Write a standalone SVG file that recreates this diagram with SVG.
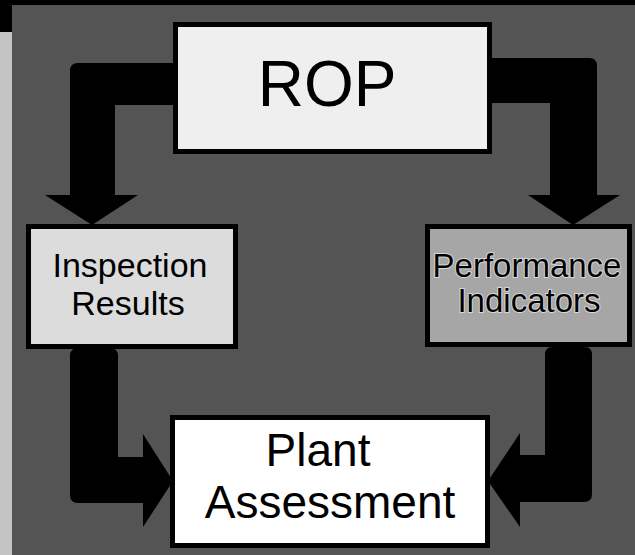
<svg xmlns="http://www.w3.org/2000/svg" width="635" height="555" viewBox="0 0 635 555">
  <style>
    .box { stroke: #000; stroke-width: 5; }
    .lbl { font-family: "Liberation Sans", Arial, sans-serif; fill: #000; text-anchor: middle; }
    .arrow { fill: #000; }
  </style>
  <rect x="0" y="0" width="635" height="555" fill="#545454"/>
  <rect x="0" y="0" width="12" height="555" fill="#c4c4c4"/>
  <rect x="0" y="0" width="12" height="32" fill="#000"/>
  <rect x="0" y="0" width="635" height="5" fill="#000"/>

  <g id="connectors">
    <path class="arrow" d="M175,63 L78,63 Q70,63 70,71 L70,195 L45,195 L92,225 L138,195 L115,195 L115,105 L175,105 Z"/>
    <path class="arrow" d="M492,58 L589,58 Q597,58 597,66 L597,195 L620,195 L573,225 L528,195 L550,195 L550,103 L492,103 Z"/>
    <path class="arrow" d="M70,356 Q70,348 78,348 L110,348 Q118,348 118,356 L118,457 L143,457 L143,434 L173,481 L143,527 L143,503 L78,503 Q70,503 70,495 Z"/>
    <path class="arrow" d="M592,355 Q592,347 585,347 L552,347 Q545,347 545,355 L545,455 L520,455 L520,433 L488,481 L520,527 L520,502 L584,502 Q592,502 592,494 Z"/>
  </g>

  <g id="rop">
    <rect class="box" x="175.5" y="24.5" width="314" height="127" fill="#efefef"/>
    <text class="lbl" x="327" y="106" font-size="64">ROP</text>
  </g>

  <g id="inspection-results">
    <rect class="box" x="28.5" y="226.5" width="207" height="120" fill="#dcdcdc"/>
    <text class="lbl" x="130" y="277" font-size="34">Inspection</text>
    <text class="lbl" x="128" y="315" font-size="34">Results</text>
  </g>

  <g id="performance-indicators">
    <rect class="box" x="427.5" y="226.5" width="202" height="118" fill="#a6a6a6"/>
    <text class="lbl" x="527" y="277" font-size="33" stroke="#d8d8d8" stroke-width="2" paint-order="stroke">Performance</text>
    <text class="lbl" x="529" y="312" font-size="33" stroke="#d8d8d8" stroke-width="2" paint-order="stroke">Indicators</text>
  </g>

  <g id="plant-assessment">
    <rect class="box" x="172.5" y="417.5" width="315" height="128" fill="#ffffff"/>
    <text class="lbl" x="318" y="466" font-size="46">Plant</text>
    <text class="lbl" x="330" y="518" font-size="46">Assessment</text>
  </g>
</svg>
